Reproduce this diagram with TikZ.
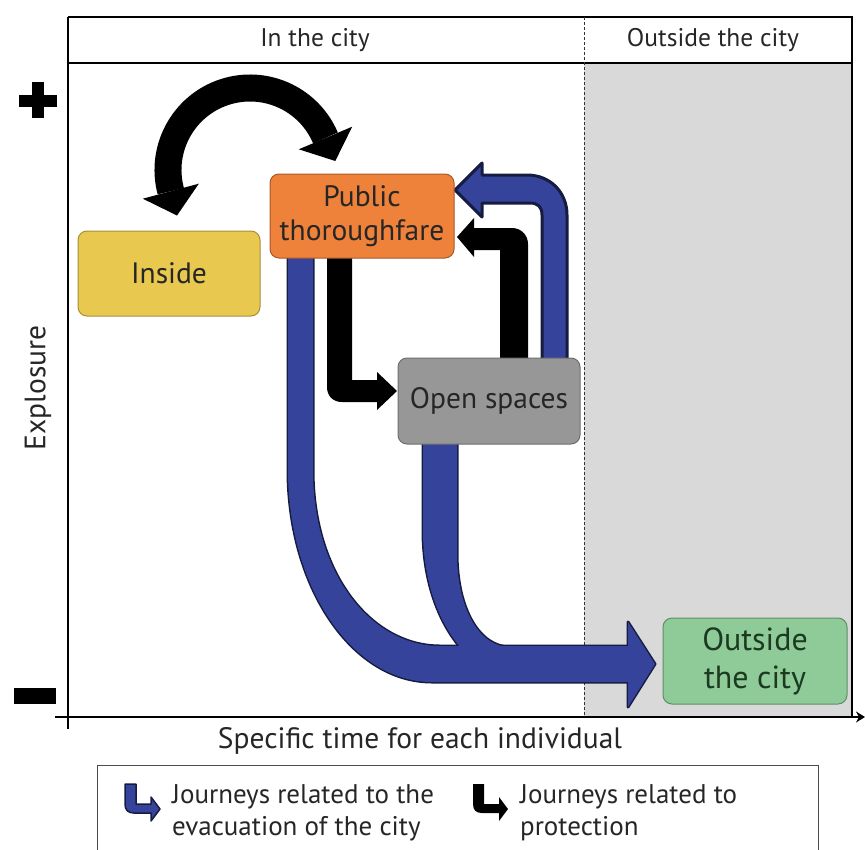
\documentclass[tikz,border=0pt]{standalone}
\usepackage{fontspec}
\setmainfont{PT Sans}
\usetikzlibrary{arrows.meta}
\definecolor{evac}{HTML}{35449A}
\definecolor{evacline}{HTML}{161B40}
\definecolor{insidefill}{HTML}{E9C850}
\definecolor{insideline}{HTML}{A88F3A}
\definecolor{pubfill}{HTML}{EF823A}
\definecolor{publine}{HTML}{A8582A}
\definecolor{openfill}{HTML}{979797}
\definecolor{openline}{HTML}{6E6E6E}
\definecolor{outfill}{HTML}{8FCB98}
\definecolor{outline}{HTML}{5E8F66}
\definecolor{outtext}{HTML}{1C3A20}
\definecolor{bgout}{HTML}{D9D9D9}
\tikzset{
  placebox/.style={rounded corners=9pt, minimum width=#1, align=center, inner sep=0pt, line width=1pt, text=black!85, font=\fontsize{29.5}{34}\selectfont},
  evacpass/.style={draw=evacline, line width=3pt, fill=evac, line join=round},
  evacfill/.style={fill=evac},
  protect/.style={fill=black},
  headtext/.style={font=\fontsize{25.5}{30}\selectfont, text=black!85},
  axistext/.style={font=\fontsize{29.5}{34}\selectfont, text=black!85},
  legtext/.style={anchor=west, align=left, font=\fontsize{27}{32}\selectfont, text=black!85, inner sep=0pt},
}
\begin{document}
\begin{tikzpicture}[x=1pt,y=-1pt]
\useasboundingbox (0,0) rectangle (865,849);
% background of outside region
\fill[bgout] (584,63) rectangle (852,717);
% frame
\draw[line width=2pt] (68,17) -- (852,17) -- (852,717);
\draw[line width=2pt] (68,63) -- (852,63);
\draw[line width=1pt, dash pattern=on 3pt off 2pt, black!80] (584,17) -- (584,717);
\draw[line width=2pt] (68,17) -- (68,729);
\draw[line width=2pt, -{Stealth[length=9pt,width=11pt]}] (55,717) -- (865,717);
% header texts
\node[headtext] (hin) at (315,40) {In the city};
\node[headtext] (hout) at (713,40) {Outside the city};
% plus / minus
\fill (19,95) rectangle (57,107);
\fill (32,82) rectangle (44,118);
\fill (14,688) rectangle (56,704);
% axis labels
\node[axistext, rotate=90] (ylab) at (38,388) {Explosure};
\node[axistext] (xlab) at (420,741) {Specific time for each individual};

% ---- black curved double arrow (Inside <-> Public thoroughfare)
\draw[line width=27pt] (250,170) ++(165:82) arc[start angle=165, end angle=337, radius=82];
\fill (198.8,183.7) -- (177,215.5) -- (142.8,198.7) -- cycle;
\fill (352.2,126.7) -- (335.3,161) -- (298.8,149.3) -- cycle;

% ---- blue evacuation arrows (two arms merging)
\foreach \sty in {evacpass, evacfill}{
  \path[\sty] (288,250) -- (288,470) .. controls (288,587) and (352,682) .. (432,682) -- (632,682)
     -- (632,646) -- (440,646) .. controls (372,646) and (313,575) .. (313,470) -- (313,250) -- cycle;
  \path[\sty] (423,440) -- (423,530) .. controls (423,595) and (448,642) .. (478,664) -- (510,664)
     -- (510,647) .. controls (480,647) and (457,610) .. (457,553) -- (457,440) -- cycle;
  \path[\sty] (628,622) -- (655,664) -- (628,707) -- cycle;
}
% blue arrow from Open spaces to Public thoroughfare
\path[evacpass] (542,365) -- (542,215) .. controls (542,207) and (538,203) .. (530,203) -- (482,203)
   -- (482,217) -- (455,190) -- (482,163) -- (482,175) -- (527,175)
   .. controls (550,175) and (567,192) .. (567,215) -- (567,365) -- cycle;

% ---- black protection arrows
\path[protect] (500,365) -- (500,250) -- (474,250) -- (474,257) -- (457,237) -- (474,218) -- (474,228)
   -- (512,228) .. controls (521,228) and (528,235) .. (528,244) -- (528,365) -- cycle;
\path[protect] (327,250) -- (327,387) .. controls (327,396) and (333,402) .. (342,402) -- (377,402)
   -- (377,410) -- (397,391) -- (377,372) -- (377,380) -- (352,380) -- (352,250) -- cycle;

% ---- nodes
\node[placebox=182pt, minimum height=85pt, fill=insidefill, draw=insideline] (inside) at (169,273.5) {Inside};
\node[placebox=184pt, minimum height=84pt, fill=pubfill, draw=publine] (pub) at (362,216) {Public\\thoroughfare};
\node[placebox=182pt, minimum height=86pt, fill=openfill, draw=openline] (open) at (489,401) {Open spaces};
\node[placebox=184pt, minimum height=86pt, fill=outfill, draw=outline, text=outtext, font=\fontsize{32}{38}\selectfont] (outc) at (755,661) {Outside\\the city};

% ---- legend
\draw[line width=1pt, black!70] (97,765) rectangle (818,880);
\path[evacpass, line width=1.5pt] (125,784) -- (125,804) .. controls (125,810) and (128,813) .. (134,813) -- (151,813)
   -- (151,821) -- (160,809) -- (151,797) -- (151,804) -- (136,804) -- (136,784) -- cycle;
\path[protect] (473,784) -- (473,804) .. controls (473,810) and (476,813) .. (482,813) -- (499,813)
   -- (499,821) -- (508,809) -- (499,797) -- (499,804) -- (484,804) -- (484,784) -- cycle;
\node[legtext] (legA) at (172,813) {Journeys related to the\\evacuation of the city};
\node[legtext] (legB) at (520,813) {Journeys related to\\protection};
\end{tikzpicture}
\end{document}
